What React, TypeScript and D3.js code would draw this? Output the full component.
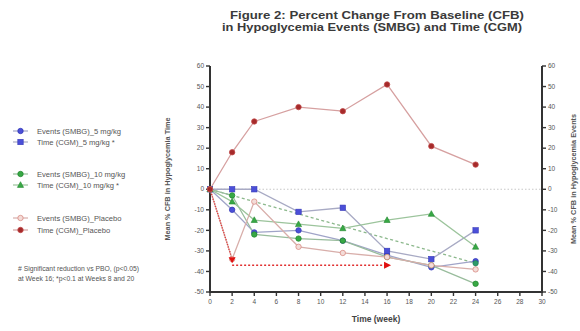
import * as d3 from "d3"

// weeks at which data were collected
const weeks = [0, 2, 4, 8, 12, 16, 20, 24]

// mean % change from baseline
const events5 = [0, -10, -21, -20, -25, -32, -38, -35]
const time5 = [0, 0, 0, -11, -9, -30, -34, -20]
const events10 = [0, -3, -22, -24, -25, -33, -37, -46]
const time10 = [0, -6, -15, -17, -19, -15, -12, -28]
const eventsPlacebo = [0, -34, -6, -28, -31, -33, -37, -39]
const timePlacebo = [0, 18, 33, 40, 38, 51, 21, 12]

// dashed trend line and placebo reference arrow
const trendWeeks = [0, 24]
const trendValues = [0, -36]
const arrowDownWeeks = [0, 2]
const arrowDownValues = [0, -34]
const arrowAcrossWeeks = [2, 16]
const arrowAcrossValues = [-37, -37]

const xTicks = d3.range(0, 31, 2)
const yTicks = d3.range(-50, 61, 10)

const legendLabels = [
  "Events (SMBG)_5 mg/kg",
  "Time (CGM)_5 mg/kg *",
  "Events (SMBG)_10 mg/kg",
  "Time (CGM)_10 mg/kg *",
  "Events (SMBG)_Placebo",
  "Time (CGM)_Placebo",
]

const FONT = "'Liberation Sans', Arial, sans-serif"

type Series = {
  values: number[]
  line: string
  fill: string
  stroke: string
  shape: "circle" | "square" | "triangle"
}

const series: Series[] = [
  { values: events5, line: "#a0a4c8", fill: "#4b4fd8", stroke: "#3438b8", shape: "circle" },
  { values: time5, line: "#a8aac4", fill: "#4b4fd8", stroke: "#3438b8", shape: "square" },
  { values: events10, line: "#98bc9c", fill: "#38a845", stroke: "#238a30", shape: "circle" },
  { values: time10, line: "#9cc49c", fill: "#38a845", stroke: "#238a30", shape: "triangle" },
  { values: eventsPlacebo, line: "#d8aeaa", fill: "#f3dcd8", stroke: "#d98c84", shape: "circle" },
  { values: timePlacebo, line: "#d6a0a0", fill: "#a52a2a", stroke: "#c04848", shape: "circle" },
]

function Marker({ x, y, s }: { x: number; y: number; s: Series }) {
  if (s.shape === "square")
    return <rect x={x - 2.7} y={y - 2.7} width={5.4} height={5.4} fill={s.fill} stroke={s.stroke} strokeWidth={0.6} />
  if (s.shape === "triangle")
    return <path d={`M${x},${y - 3.3}L${x + 3.1},${y + 2.4}L${x - 3.1},${y + 2.4}Z`} fill={s.fill} stroke={s.stroke} strokeWidth={0.6} />
  return <circle cx={x} cy={y} r={2.7} fill={s.fill} stroke={s.stroke} strokeWidth={0.8} />
}

export default function App() {
  const width = 580
  const height = 331
  const x = d3.scaleLinear().domain([0, 30]).range([210, 542])
  const y = d3.scaleLinear().domain([-50, 60]).range([292, 66])

  const line = d3
    .line<[number, number]>()
    .x((d) => x(d[0]))
    .y((d) => y(d[1]))

  const pts = (xs: number[], vs: number[]) => xs.map((w, i) => [w, vs[i]] as [number, number])

  const legendY = [131, 142, 174, 185, 218, 230]

  return (
    <div style={{ position: "fixed", left: 0, top: 0 }}>
      <svg width={width} height={height} style={{ display: "block", background: "#fff" }} fontFamily={FONT}>
        {/* title */}
        <text x={377} y={19} textAnchor="middle" fontSize={10.5} fontWeight="bold" fill="#3a3a3a" textLength={294} lengthAdjust="spacingAndGlyphs">
          Figure 2: Percent Change From Baseline (CFB)
        </text>
        <text x={372} y={31} textAnchor="middle" fontSize={10.5} fontWeight="bold" fill="#3a3a3a" textLength={300} lengthAdjust="spacingAndGlyphs">
          in Hypoglycemia Events (SMBG) and Time (CGM)
        </text>

        {/* zero reference */}
        <line x1={x(0)} x2={x(30)} y1={y(0)} y2={y(0)} stroke="#c8c8c8" strokeWidth={1.2} strokeDasharray="1.5,2" />

        {/* left axis */}
        <line x1={x(0)} x2={x(0)} y1={y(60)} y2={y(-50)} stroke="#333" strokeWidth={2} />
        {yTicks.map((t) => (
          <g key={"l" + t}>
            <line x1={x(0) - 4} x2={x(0)} y1={y(t)} y2={y(t)} stroke="#333" strokeWidth={1.4} />
            <text x={x(0) - 6} y={y(t) + 2.2} textAnchor="end" fontSize={6.5} fill="#555">
              {t}
            </text>
          </g>
        ))}
        {/* right axis */}
        <line x1={x(30)} x2={x(30)} y1={y(60)} y2={y(-50)} stroke="#333" strokeWidth={2} />
        {yTicks.map((t) => (
          <g key={"r" + t}>
            <line x1={x(30)} x2={x(30) + 4} y1={y(t)} y2={y(t)} stroke="#333" strokeWidth={1.4} />
            <text x={x(30) + 6} y={y(t) + 2.2} fontSize={6.5} fill="#555">
              {t}
            </text>
          </g>
        ))}
        {/* bottom axis */}
        <line x1={x(0) - 1} x2={x(30) + 1} y1={y(-50)} y2={y(-50)} stroke="#333" strokeWidth={2} />
        {xTicks.map((t) => (
          <g key={"x" + t}>
            <line x1={x(t)} x2={x(t)} y1={y(-50)} y2={y(-50) + 4} stroke="#333" strokeWidth={1.4} />
            <text x={x(t)} y={y(-50) + 11.5} textAnchor="middle" fontSize={6.5} fill="#555">
              {t}
            </text>
          </g>
        ))}
        <text x={376} y={322} textAnchor="middle" fontSize={8.5} fontWeight="bold" fill="#444">
          Time (week)
        </text>
        <text transform={`translate(170,${y(5)}) rotate(-90)`} textAnchor="middle" fontSize={7.3} fontWeight="bold" fill="#555">
          Mean % CFB in Hypoglycemia Time
        </text>
        <text transform={`translate(576,${y(5)}) rotate(-90)`} textAnchor="middle" fontSize={7.3} fontWeight="bold" fill="#555">
          Mean % CFB in Hypoglycemia Events
        </text>

        {/* trend line */}
        <path d={line(pts(trendWeeks, trendValues)) ?? ""} fill="none" stroke="#8cb88c" strokeWidth={1.3} strokeDasharray="3,2.5" />

        {/* series lines */}
        {series.map((s, i) => (
          <path key={"p" + i} d={line(pts(weeks, s.values)) ?? ""} fill="none" stroke={s.line} strokeWidth={1.3} />
        ))}

        {/* placebo reference arrow */}
        <path d={line(pts(arrowDownWeeks, arrowDownValues)) ?? ""} fill="none" stroke="#e03030" strokeWidth={1.4} strokeDasharray="1,1.5" />
        <path d={line(pts(arrowAcrossWeeks, arrowAcrossValues)) ?? ""} fill="none" stroke="#e03030" strokeWidth={1.4} strokeDasharray="2,2" />

        {/* markers */}
        {series.map((s, i) =>
          weeks.map((w, j) => <Marker key={`m${i}-${j}`} x={x(w)} y={y(s.values[j])} s={s} />)
        )}
        <path
          d={`M${x(2) - 3.5},${y(arrowDownValues[1]) - 2}L${x(2) + 3.5},${y(arrowDownValues[1]) - 2}L${x(2)},${y(arrowDownValues[1]) + 4}Z`}
          fill="#e01010"
        />
        <path
          d={`M${x(16) - 3},${y(-37) - 3.5}L${x(16) - 3},${y(-37) + 3.5}L${x(16) + 4},${y(-37)}Z`}
          fill="#e01010"
        />
        <circle cx={x(24)} cy={y(trendValues[1])} r={2.7} fill="#2e9a6a" stroke="#1f7a50" strokeWidth={0.6} />

        {/* legend */}
        {legendLabels.map((lab, i) => {
          const s = series[i]
          return (
            <g key={"lg" + i}>
              <line x1={13} x2={28} y1={legendY[i]} y2={legendY[i]} stroke={s.line} strokeWidth={1.2} />
              <Marker x={20.5} y={legendY[i]} s={s} />
              <text x={37} y={legendY[i] + 2.6} fontSize={7.6} fill="#555">
                {lab}
              </text>
            </g>
          )
        })}
        <text x={18} y={271} fontSize={6.8} fill="#555">
          # Significant reduction vs PBO, (p&lt;0.05)
        </text>
        <text x={18} y={281} fontSize={6.8} fill="#555">
          at Week 16; *p&lt;0.1 at Weeks 8 and 20
        </text>
      </svg>
    </div>
  )
}
